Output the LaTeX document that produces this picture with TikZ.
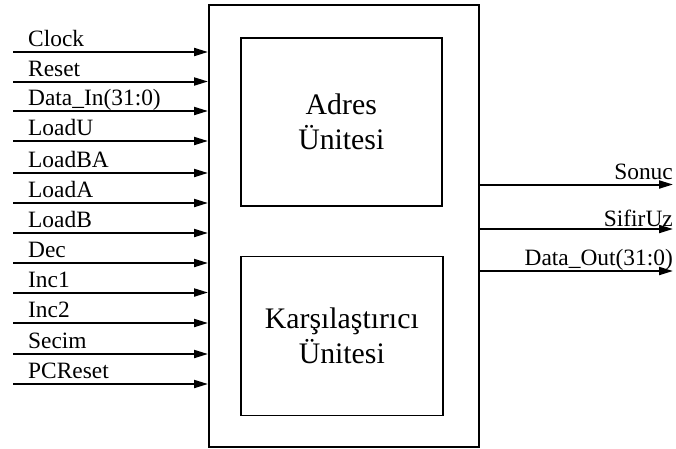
\documentclass[tikz,border=0pt]{standalone}
\usepackage{fontspec}
\setmainfont{Liberation Serif}
\usetikzlibrary{arrows.meta}
\begin{document}
\begin{tikzpicture}[x=1pt,y=-1pt,
  box/.style={draw,line width=1.6pt,inner sep=0pt,anchor=north west},
  unit/.style={box,align=center,font=\fontsize{29.8}{35.6}\selectfont},
  sig/.style={line width=2pt,-{Triangle[length=14pt,width=8pt]}},
  lbl/.style={inner sep=0pt,font=\fontsize{23.4}{24}\selectfont}]
\useasboundingbox (0,0) rectangle (676,448);

% enclosing block and its two units
\node[box,minimum width=270pt,minimum height=442pt] (blk) at (208,4) {};
\node[unit,minimum width=201pt,minimum height=168pt] (adr) at (240,37) {Adres\\Ünitesi};
\node[unit,minimum width=202pt,minimum height=159pt] (cmp) at (240,255.5) {Karşılaştırıcı\\Ünitesi};

% input signals
\foreach \name/\y [count=\i] in {Clock/52,Reset/81.5,Data\_In(31:0)/111,LoadU/141,
    LoadBA/173,LoadA/203,LoadB/233,Dec/263,Inc1/292.5,Inc2/323,Secim/354,PCReset/384}{
  \coordinate (in\i) at (13,\y);
  \draw[sig] (in\i) -- (in\i -| blk.west);
  \node[lbl,anchor=base west] (inl\i) at (28,\y-5.3) {\name};
}

% output signals
\foreach \name/\y/\b [count=\i] in {Sonuc/184.5/179,SifirUz/229/226.5,Data\_Out(31:0)/271/265.5}{
  \coordinate (out\i) at (673,\y);
  \draw[sig] (out\i -| blk.east) -- (out\i);
  \node[lbl,anchor=base east] (outl\i) at (673,\b) {\name};
}
\end{tikzpicture}
\end{document}
